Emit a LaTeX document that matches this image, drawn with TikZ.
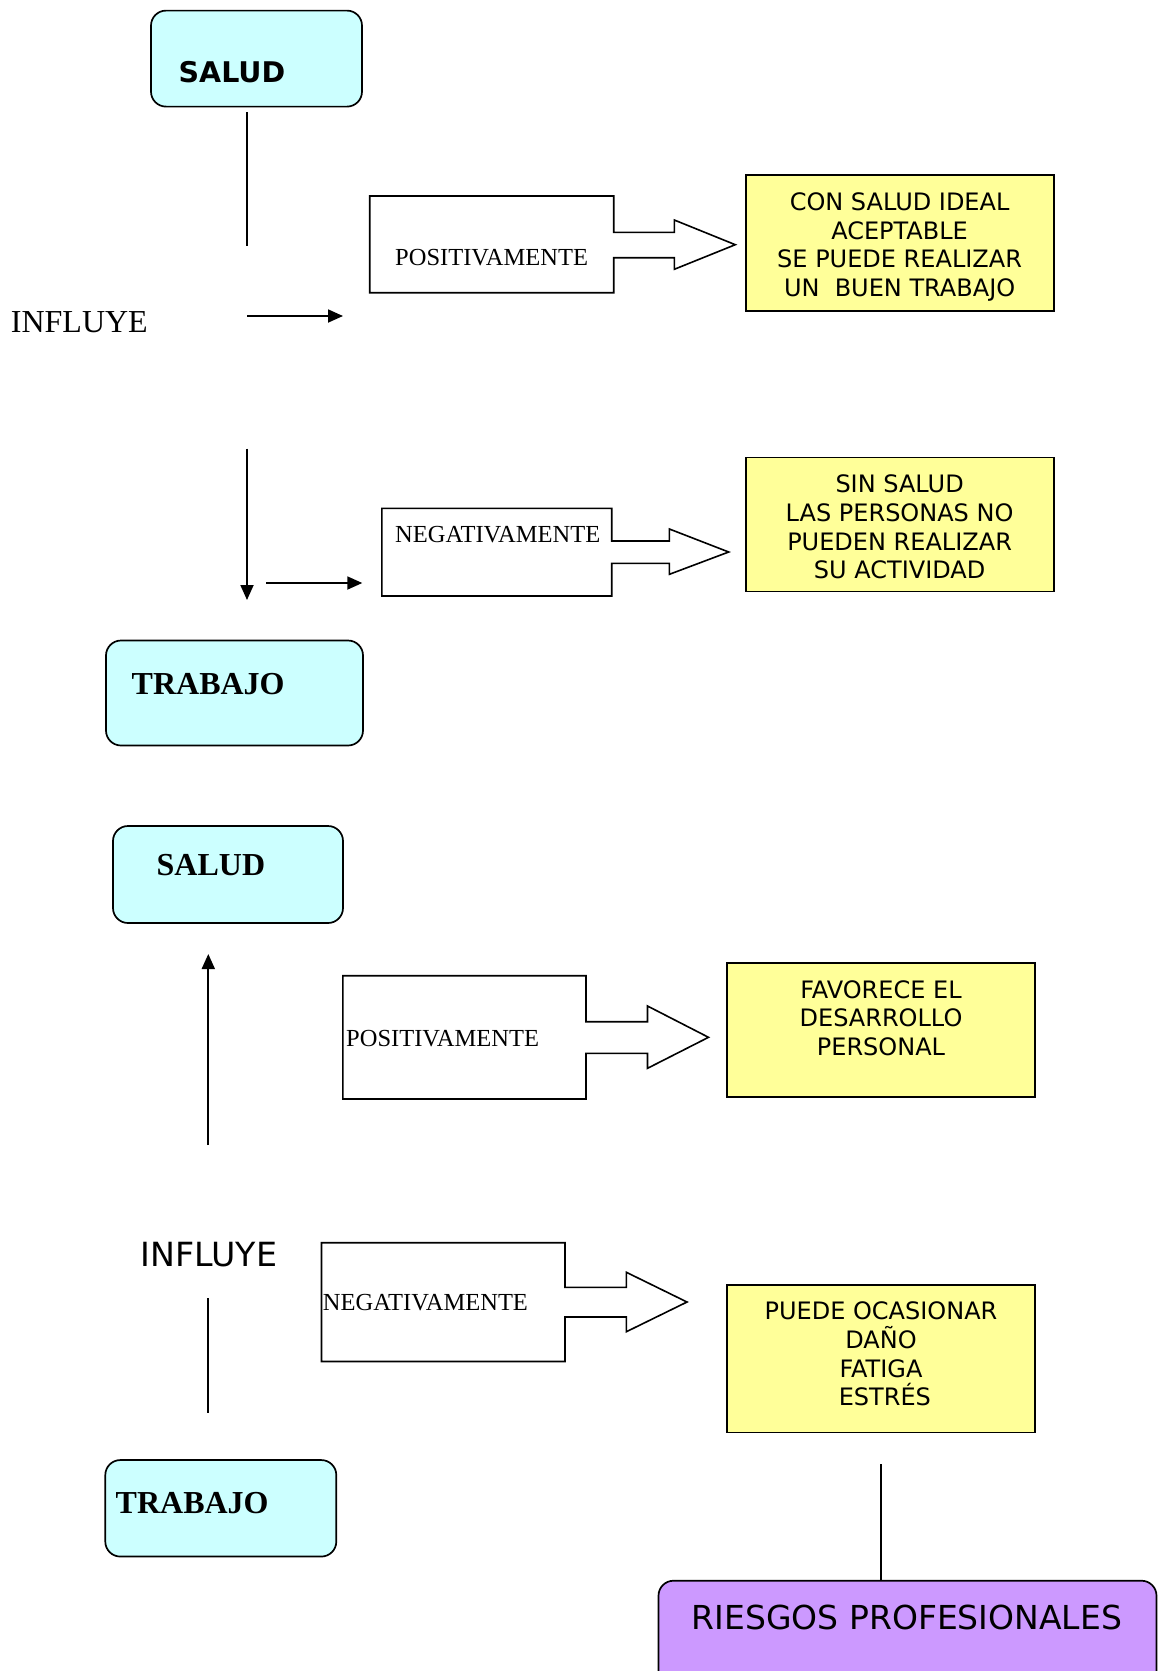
\documentclass[tikz,border=0pt]{standalone}
\usepackage{fontspec}
\usetikzlibrary{arrows.meta}
\newfontfamily\verd{DejaVu Sans}
\newfontfamily\tnr{Liberation Serif}
\definecolor{boxcyan}{HTML}{CCFFFF}
\definecolor{boxyellow}{HTML}{FFFF99}
\definecolor{boxpurple}{HTML}{CC99FF}
\tikzset{
  roundbox/.style={draw=black, line width=1.7pt, rounded corners=15pt, fill=boxcyan, inner sep=0pt},
  resultbox/.style={draw=black, line width=1.8pt, fill=boxyellow, inner sep=0pt},
  riskbox/.style={draw=black, line width=1.7pt, rounded corners=15pt, fill=boxpurple, inner sep=0pt},
  blockarrow/.style={draw=black, line width=1.6pt, fill=white, line join=miter},
  thinline/.style={line width=1.8pt},
  thinarrow/.style={line width=1.8pt, -{Triangle[length=15pt,width=13pt]}},
  lbl/.style={inner sep=0pt, anchor=base west},
  boldserif/.style={lbl, font=\tnr\bfseries\fontsize{32}{38}\selectfont},
  plainserif/.style={lbl, font=\tnr\fontsize{24.5}{29}\selectfont},
  restext/.style={inner sep=0pt, anchor=north, align=center, font=\verd\fontsize{24}{28.7}\selectfont},
}
\begin{document}
\begin{tikzpicture}[x=1pt,y=-1pt]
\fill[white] (0,0) rectangle (1158,1671);
\clip (0,0) rectangle (1158,1671);

% ---------- first part: health influences work ----------
\node[roundbox, minimum width=211pt, minimum height=96pt] (salud1) at (256.5,58.6) {};
\node[lbl, font=\verd\bfseries\fontsize{28.5}{34}\selectfont] (salud1t) at (178.5,82) {SALUD};

\node[lbl, font=\tnr\fontsize{32}{38}\selectfont] (influye1) at (10.7,332) {INFLUYE};

\coordinate (l1a) at (247,112);
\coordinate (l1b) at (247,246);
\draw[thinline] (l1a) -- (l1b);

\coordinate (a1a) at (247,316);
\coordinate (a1b) at (343,316);
\draw[thinarrow] (a1a) -- (a1b);

\coordinate (a2a) at (247,448.5);
\coordinate (a2b) at (247,600);
\draw[thinarrow] (a2a) -- (a2b);

\coordinate (a3a) at (266,583);
\coordinate (a3b) at (362.3,583);
\draw[thinarrow] (a3a) -- (a3b);

% block arrow: positivamente
\draw[blockarrow] (369.7,196) -- (613.7,196) -- (613.7,232.3) -- (674.3,232.3) -- (674.3,220)
  -- (735.3,244.7) -- (674.3,269.3) -- (674.3,257.7) -- (613.7,257.7) -- (613.7,292.7)
  -- (369.7,292.7) -- cycle;
\node[plainserif] (pos1) at (395,265) {POSITIVAMENTE};

% block arrow: negativamente
\draw[blockarrow] (381.9,508.3) -- (611.7,508.3) -- (611.7,541) -- (669.4,541) -- (669.4,529)
  -- (728.7,552) -- (669.4,574.3) -- (669.4,563.3) -- (611.7,563.3) -- (611.7,596)
  -- (381.9,596) -- cycle;
\node[plainserif] (neg1) at (395,542.7) {NEGATIVAMENTE};

\node[resultbox, minimum width=308pt, minimum height=136pt] (res1) at (899.6,242.8) {};
\node[restext] (res1t) at (899.6,192.3) {CON SALUD IDEAL\\ACEPTABLE\\SE PUEDE REALIZAR\\UN\ \ BUEN TRABAJO};

\node[resultbox, minimum width=308pt, minimum height=134pt] (res2) at (899.6,524.5) {};
\node[restext] (res2t) at (899.6,474.6) {SIN SALUD\\LAS PERSONAS NO\\PUEDEN REALIZAR\\SU ACTIVIDAD};

\node[roundbox, minimum width=257pt, minimum height=105pt] (trabajo1) at (234.5,693) {};
\node[boldserif] (trabajo1t) at (131.5,694) {TRABAJO};

% ---------- second part: work influences health ----------
\node[roundbox, minimum width=230pt, minimum height=97pt] (salud2) at (228,874.5) {};
\node[boldserif] (salud2t) at (156.5,875) {SALUD};

\coordinate (a4a) at (208.3,1145);
\coordinate (a4b) at (208.3,954);
\draw[thinarrow] (a4a) -- (a4b);

\draw[blockarrow] (342.9,975.7) -- (586,975.7) -- (586,1021.7) -- (647.5,1021.7) -- (647.5,1006)
  -- (708.5,1037.3) -- (647.5,1068.3) -- (647.5,1053.3) -- (586,1053.3) -- (586,1099)
  -- (342.9,1099) -- cycle;
\node[plainserif] (pos2) at (346,1046.7) {POSITIVAMENTE};

\node[resultbox, minimum width=308pt, minimum height=134.5pt] (res3) at (881,1030) {};
\node[restext] (res3t) at (881,980) {FAVORECE EL\\DESARROLLO\\PERSONAL};

\node[lbl, font=\verd\fontsize{33.3}{40}\selectfont] (influye2) at (140.6,1266.7) {INFLUYE};

\draw[blockarrow] (321.5,1242.7) -- (565,1242.7) -- (565,1287.3) -- (626.4,1287.3) -- (626.4,1272.3)
  -- (687,1302) -- (626.4,1331.7) -- (626.4,1317) -- (565,1317) -- (565,1361.5)
  -- (321.5,1361.5) -- cycle;
\node[plainserif] (neg2) at (322.7,1310) {NEGATIVAMENTE};

\coordinate (l2a) at (208.3,1298.3);
\coordinate (l2b) at (208.3,1413);
\draw[thinline] (l2a) -- (l2b);

\node[resultbox, minimum width=308pt, minimum height=147.5pt] (res4) at (881,1358.8) {};
\node[restext] (res4t) at (881,1301.6) {PUEDE OCASIONAR\\DAÑO\\FATIGA\\\ ESTRÉS};

\node[roundbox, minimum width=231pt, minimum height=96.5pt] (trabajo2) at (220.8,1508.3) {};
\node[boldserif] (trabajo2t) at (115.5,1513.3) {TRABAJO};

\coordinate (l3a) at (880.7,1464);
\coordinate (l3b) at (880.7,1580.7);
\draw[thinline] (l3a) -- (l3b);

\node[riskbox, minimum width=498pt, minimum height=130pt] (riesgos) at (907.5,1645.7) {};
\node[lbl, font=\verd\fontsize{33}{40}\selectfont] (riesgost) at (691.7,1629.5) {RIESGOS PROFESIONALES};
\end{tikzpicture}
\end{document}
